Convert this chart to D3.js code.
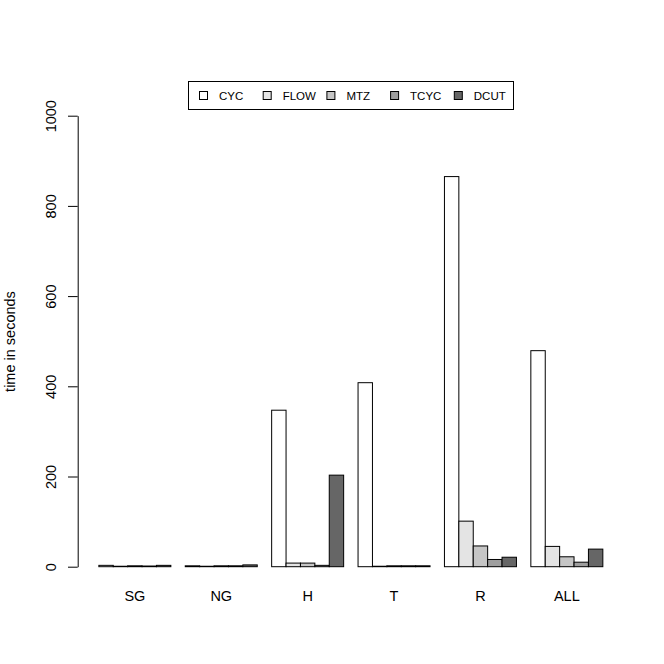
<!DOCTYPE html>
<html>
<head>
<meta charset="utf-8">
<title>time in seconds</title>
<style>
body {
  margin: 0;
  background: #fff;
}
svg text {
  font-family: "Liberation Sans", Arial, Helvetica, sans-serif;
  fill: #000;
}
</style>
</head>
<body>
<div id="vis"></div>

<script src="https://cdn.jsdelivr.net/npm/d3@7"></script>
<script>

// groups along the x axis
var groups = ["SG", "NG", "H", "T", "R", "ALL"];
// the five methods (legend order)
var methods = ["CYC", "FLOW", "MTZ", "TCYC", "DCUT"];
var colors = ["#ffffff", "#e4e4e4", "#c5c5c5", "#9e9e9e", "#666666"];

// seconds, one array per method, in group order
var CYC  = [3, 2, 347, 408, 865, 479];
var FLOW = [1, 1, 8, 1, 101, 45];
var MTZ  = [2, 2, 8, 2, 46, 22];
var TCYC = [1.5, 2, 3, 2, 16, 10];
var DCUT = [3, 4, 203, 2, 21, 39];

var yTicks = [0, 200, 400, 600, 800, 1000];
var yLabel = "time in seconds";

var series = [CYC, FLOW, MTZ, TCYC, DCUT];

var W = 664, H = 664;

var svg = d3.select("#vis").append("svg")
    .attr("width", W)
    .attr("height", H);

// R barplot units: each group is 5 bars plus one space before it
var x = d3.scaleLinear()
    .domain([-0.4, 37.4])
    .range([78.7, 623]);

var y = d3.scaleLinear()
    .domain([0, 1000])
    .range([566.7, 115.7]);

var bars = [];
groups.forEach(function(g, i) {
  methods.forEach(function(m, j) {
    bars.push({ group: i, method: j, value: series[j][i] });
  });
});

svg.append("g")
  .selectAll("rect")
  .data(bars).enter()
  .append("rect")
    .attr("x", function(d) { return x(1 + d.group * 6 + d.method); })
    .attr("width", function(d) { return x(2) - x(1); })
    .attr("y", function(d) { return y(d.value); })
    .attr("height", function(d) { return y(0) - y(d.value); })
    .attr("fill", function(d) { return colors[d.method]; })
    .attr("stroke", "#000")
    .attr("stroke-width", 1);

// group labels
svg.append("g")
  .selectAll("text")
  .data(groups).enter()
  .append("text")
    .attr("x", function(d, i) { return x(1 + i * 6 + 2.5); })
    .attr("y", 601)
    .attr("text-anchor", "middle")
    .attr("font-size", 14.5)
    .text(function(d) { return d; });

// y axis, R style with rotated labels
var yAxis = svg.append("g")
    .attr("transform", "translate(77.7,0)")
    .call(d3.axisLeft(y)
      .tickValues(yTicks)
      .tickFormat(d3.format("d"))
      .tickSize(9.7)
      .tickSizeOuter(0));

yAxis.select(".domain").attr("stroke", "#000");
yAxis.selectAll(".tick line").attr("stroke", "#000");
yAxis.selectAll(".tick text")
    .attr("transform", "rotate(-90)")
    .attr("x", 0)
    .attr("y", -21.7)
    .attr("dy", null)
    .attr("text-anchor", "middle")
    .attr("font-size", 14.5)
    .attr("font-family", null)
    .attr("fill", "#000");

svg.append("text")
    .attr("transform", "translate(15,341.5) rotate(-90)")
    .attr("text-anchor", "middle")
    .attr("font-size", 14.5)
    .text(yLabel);

// legend
var legend = svg.append("g");

legend.append("rect")
    .attr("x", 188.5)
    .attr("y", 81.5)
    .attr("width", 325)
    .attr("height", 28)
    .attr("fill", "#fff")
    .attr("stroke", "#000");

var item = legend.selectAll("g.item")
  .data(methods).enter()
  .append("g")
    .attr("class", "item")
    .attr("transform", function(d, i) { return "translate(" + (199.5 + i * 63.7) + ",0)"; });

item.append("rect")
    .attr("x", 0)
    .attr("y", 91.5)
    .attr("width", 8)
    .attr("height", 8)
    .attr("fill", function(d, i) { return colors[i]; })
    .attr("stroke", "#000");

item.append("text")
    .attr("x", 19.5)
    .attr("y", 99.8)
    .attr("font-size", 11.5)
    .text(function(d) { return d; });

</script>
</body>
</html>
